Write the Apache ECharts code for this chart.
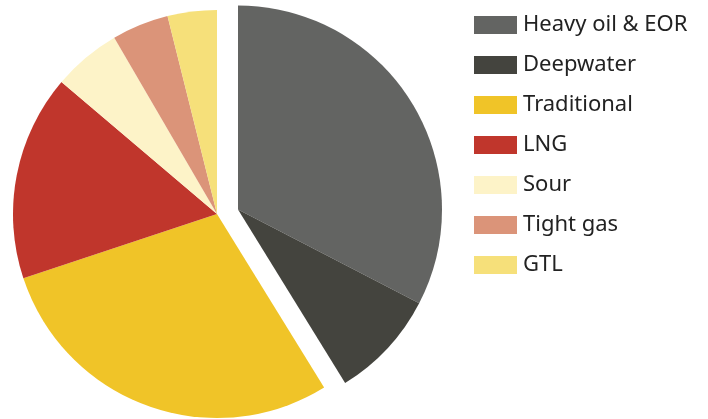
<!DOCTYPE html>
<html>
<head>
<meta charset="utf-8">
<style>
  html, body { margin: 0; padding: 0; background: #fff; }
  #chart { width: 708px; height: 419px; }
</style>
<script src="https://cdn.jsdelivr.net/npm/echarts@6/dist/echarts.min.js"></script>
</head>
<body>
<div id="chart"></div>
<script>
// shares in percent, clockwise from the top
const categories = ['Heavy oil & EOR', 'Deepwater', 'Traditional', 'LNG', 'Sour', 'Tight gas', 'GTL']
const values = [32.6, 8.6, 28.7, 16.3, 5.4, 4.5, 3.9]
const colors = ['#636462', '#44443e', '#f0c428', '#c0362c', '#fdf3c8', '#db9479', '#f6e07a']
// the first two slices are pulled out of the pie together
const explodedCount = 2

const chart = echarts.init(document.getElementById('chart'))

const sum = arr => arr.reduce((a, b) => a + b, 0)
const hidden = (name, value) => ({
  name,
  value,
  itemStyle: { color: 'rgba(0,0,0,0)' },
  emphasis: { disabled: true },
  tooltip: { show: false }
})
const item = i => ({ name: categories[i], value: values[i], itemStyle: { color: colors[i] } })

const explodedData = []
const mainData = []
for (let i = 0; i < categories.length; i++) {
  if (i < explodedCount) explodedData.push(item(i))
  else mainData.push(item(i))
}
explodedData.push(hidden('_rest', sum(values.slice(explodedCount))))
mainData.unshift(hidden('_gap', sum(values.slice(0, explodedCount))))

const pieBase = {
  type: 'pie',
  radius: 204,
  startAngle: 90,
  clockwise: true,
  label: { show: false },
  labelLine: { show: false },
  avoidLabelOverlap: false,
  animation: false,
  silent: true
}

chart.setOption({
  legend: {
    data: categories,
    orient: 'vertical',
    left: 474,
    top: 14,
    padding: 0,
    itemWidth: 43,
    itemHeight: 18,
    itemGap: 18,
    icon: 'rect',
    textStyle: {
      fontFamily: 'Noto Sans',
      fontSize: 22,
      lineHeight: 18,
      color: '#222',
      padding: [0, 0, 0, 1]
    },
    selectedMode: false
  },
  series: [
    Object.assign({}, pieBase, { name: 'main', center: [217, 214], data: mainData }),
    Object.assign({}, pieBase, { name: 'exploded', center: [238, 209.5], data: explodedData })
  ]
})
</script>
</body>
</html>
